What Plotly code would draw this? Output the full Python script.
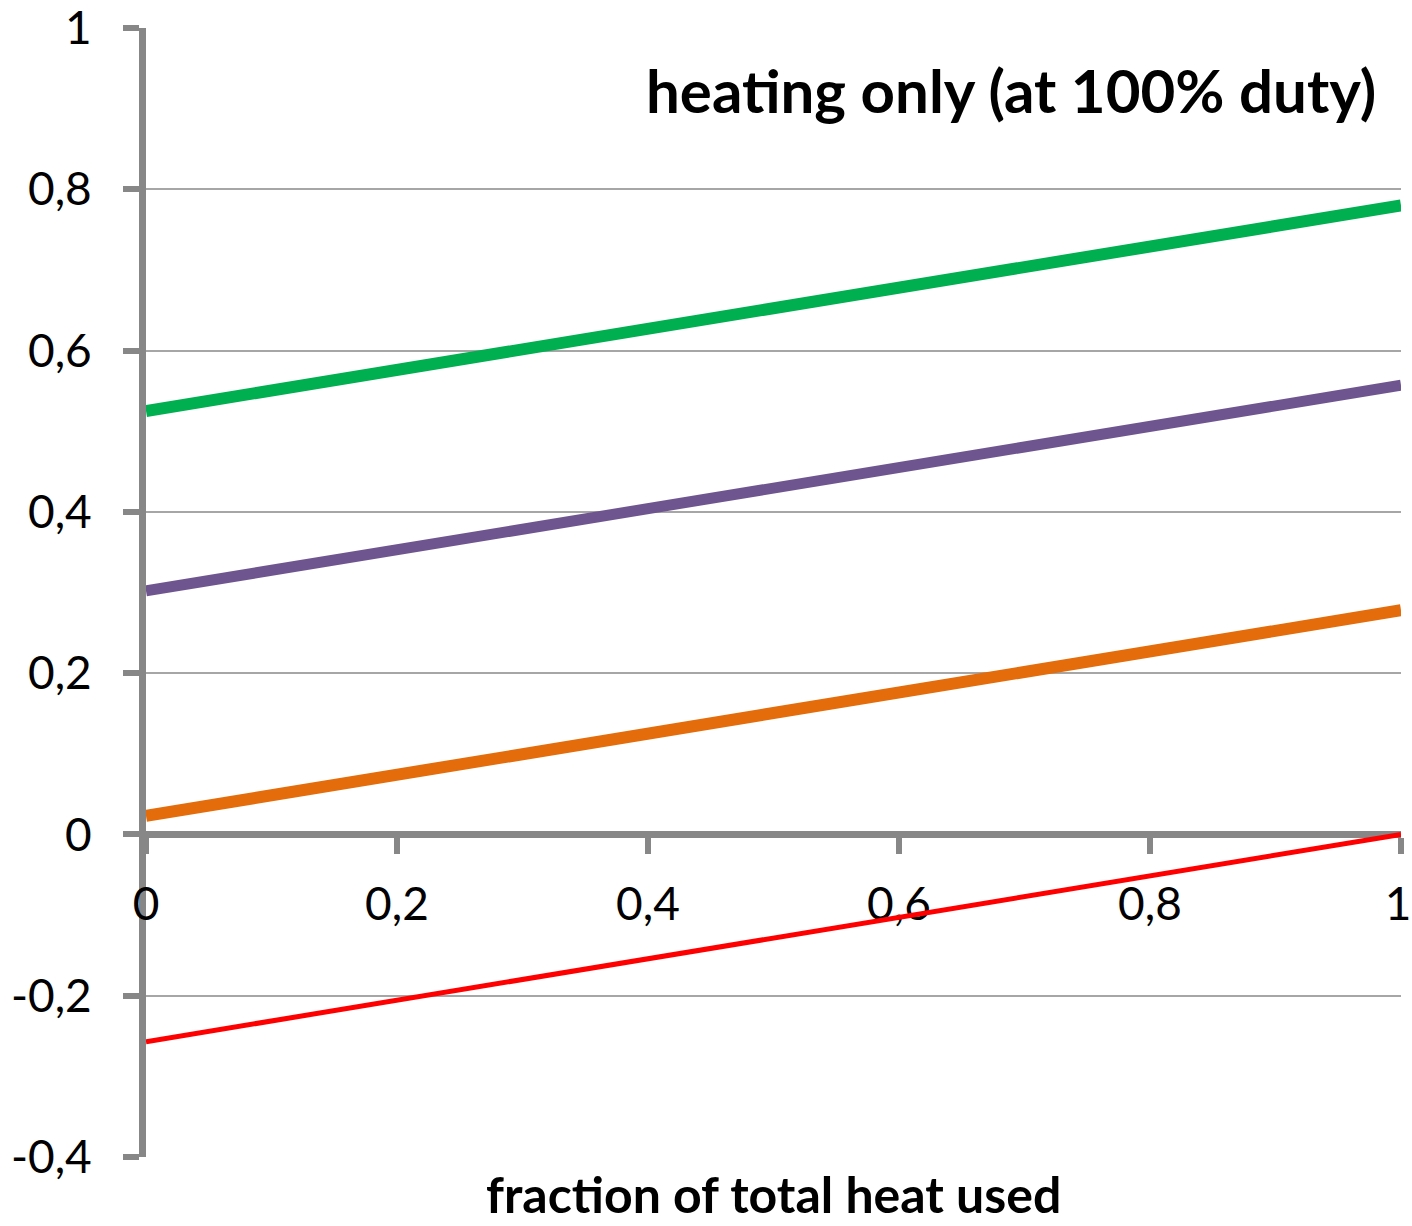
import plotly.graph_objects as go

# Fraction of total heat used (x) and the four result lines (y)
x_frac = [0, 1]
green_vals = [0.525, 0.780]
purple_vals = [0.302, 0.557]
orange_vals = [0.023, 0.278]
red_vals = [-0.257, 0.0]

y_tick_vals = [-0.4, -0.2, 0, 0.2, 0.4, 0.6, 0.8, 1]
y_tick_text = ["-0,4", "-0,2", "0", "0,2", "0,4", "0,6", "0,8", "1"]
x_tick_vals = [0, 0.2, 0.4, 0.6, 0.8, 1]
# thin space after the last label keeps it inside the right edge
x_tick_text = ["0", "0,2", "0,4", "0,6", "0,8", "1\u2009"]

title_text = "heating only (at 100% duty)"
x_title_text = "fraction of total heat used"

FONT = "Lato"
AXIS_GRAY = "#878787"
GRID_GRAY = "#a6a6a6"

series = [
    (green_vals, "#00b050", 12),
    (purple_vals, "#6f558f", 11),
    (orange_vals, "#e46c0a", 12),
    (red_vals, "#ff0000", 5),
]

fig = go.Figure()
for vals, color, width in series:
    fig.add_trace(go.Scatter(
        x=x_frac, y=vals, mode="lines",
        line=dict(color=color, width=width),
        hoverinfo="skip", showlegend=False,
    ))

y_min, y_max = -0.4, 1.0
zero_pos = (0 - y_min) / (y_max - y_min)

fig.update_layout(
    width=1412, height=1226,
    margin=dict(l=146, r=11, t=28, b=69),
    paper_bgcolor="white", plot_bgcolor="white",
    font=dict(family=FONT, color="black"),
    showlegend=False,
    xaxis=dict(
        range=[0, 1], anchor="free", position=zero_pos,
        tickvals=x_tick_vals, ticktext=x_tick_text,
        tickfont=dict(size=46, family=FONT, color="black"),
        showline=True, linecolor=AXIS_GRAY, linewidth=7,
        ticks="outside", ticklen=16, tickwidth=6, tickcolor=AXIS_GRAY,
        showgrid=False, zeroline=False, layer="below traces",
        ticklabelstandoff=10, automargin=False, ticklabeloverflow="allow",
    ),
    yaxis=dict(
        range=[y_min, y_max],
        tickvals=y_tick_vals, ticktext=y_tick_text,
        tickfont=dict(size=46, family=FONT, color="black"),
        showline=True, linecolor=AXIS_GRAY, linewidth=7,
        ticks="outside", ticklen=16, tickwidth=6, tickcolor=AXIS_GRAY,
        showgrid=True, gridcolor=GRID_GRAY, gridwidth=2,
        zeroline=False, layer="below traces",
        ticklabelstandoff=22, automargin=False, ticklabeloverflow="allow",
    ),
    annotations=[
        dict(text=f"<b>{title_text}</b>", x=0.982, y=0.945,
             xref="paper", yref="paper", xanchor="right", yanchor="middle",
             showarrow=False, font=dict(size=60, family=FONT, color="black")),
        dict(text=f"<b>{x_title_text}</b>", x=0.500, y=-0.033,
             xref="paper", yref="paper", xanchor="center", yanchor="middle",
             showarrow=False, font=dict(size=50, family=FONT, color="black")),
    ],
)

fig.write_html("out.html")
